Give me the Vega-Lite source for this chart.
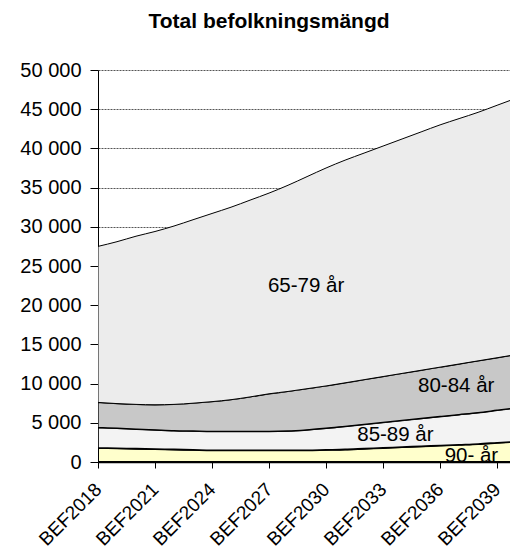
{
  "$schema": "https://vega.github.io/schema/vega-lite/v6.json",
  "width": 412,
  "height": 392,
  "autosize": {"type": "none"},
  "padding": {"left": 98, "top": 70, "right": 0, "bottom": 88},
  "background": "white",
  "config": {
    "font": "Liberation Sans",
    "view": {"stroke": null},
    "axis": {"labelFont": "Liberation Sans", "labelColor": "black", "domainColor": "black", "tickColor": "black"}
  },
  "title": {
    "text": "Total befolkningsmängd",
    "fontSize": 21,
    "fontWeight": "bold",
    "font": "Liberation Sans",
    "color": "black",
    "anchor": "middle",
    "dx": -35,
    "offset": 28
  },
  "encoding": {
    "x": {
      "field": "år",
      "type": "quantitative",
      "scale": {"domain": [2018, 2039.68], "nice": false, "zero": false},
      "axis": {
        "title": null,
        "values": [2018, 2021, 2024, 2027, 2030, 2033, 2036, 2039],
        "labelExpr": "'BEF' + datum.value",
        "labelAngle": -45,
        "labelAlign": "right",
        "labelBaseline": "middle",
        "labelFontSize": 19,
        "labelPadding": 18,
        "tickSize": 6,
        "grid": false,
        "domainWidth": 1.5,
        "labelOverlap": false,
        "labelBound": false,
        "labelFlush": false
      }
    },
    "y": {
      "field": "antal",
      "type": "quantitative",
      "stack": "zero",
      "scale": {"domain": [0, 50000], "nice": false},
      "axis": {
        "title": null,
        "values": [0, 5000, 10000, 15000, 20000, 25000, 30000, 35000, 40000, 45000, 50000],
        "labelExpr": "replace(format(datum.value, ','), ',', ' ')",
        "labelFontSize": 20,
        "labelPadding": 9,
        "labelOverlap": false,
        "labelBound": false,
        "labelFlush": false,
        "tickSize": 8,
        "grid": true,
        "gridColor": "#555555",
        "gridDash": [2, 1],
        "gridWidth": 1,
        "domainWidth": 1
      }
    }
  },
  "layer": [
    {
      "data": {
        "values": [
          {"år": 2018, "g90": 1800, "g85": 2600, "g80": 3200, "g65": 19900},
          {"år": 2019, "g90": 1750, "g85": 2550, "g80": 3150, "g65": 20650},
          {"år": 2020, "g90": 1700, "g85": 2500, "g80": 3150, "g65": 21450},
          {"år": 2021, "g90": 1650, "g85": 2450, "g80": 3200, "g65": 22100},
          {"år": 2022, "g90": 1600, "g85": 2400, "g80": 3350, "g65": 22750},
          {"år": 2023, "g90": 1550, "g85": 2400, "g80": 3550, "g65": 23400},
          {"år": 2024, "g90": 1500, "g85": 2400, "g80": 3800, "g65": 24000},
          {"år": 2025, "g90": 1500, "g85": 2400, "g80": 4050, "g65": 24550},
          {"år": 2026, "g90": 1500, "g85": 2400, "g80": 4400, "g65": 25100},
          {"år": 2027, "g90": 1500, "g85": 2400, "g80": 4800, "g65": 25600},
          {"år": 2028, "g90": 1500, "g85": 2450, "g80": 5050, "g65": 26300},
          {"år": 2029, "g90": 1500, "g85": 2600, "g80": 5250, "g65": 27050},
          {"år": 2030, "g90": 1550, "g85": 2750, "g80": 5400, "g65": 27800},
          {"år": 2031, "g90": 1600, "g85": 2950, "g80": 5550, "g65": 28400},
          {"år": 2032, "g90": 1700, "g85": 3100, "g80": 5700, "g65": 28900},
          {"år": 2033, "g90": 1800, "g85": 3250, "g80": 5850, "g65": 29400},
          {"år": 2034, "g90": 1900, "g85": 3400, "g80": 6000, "g65": 29900},
          {"år": 2035, "g90": 2000, "g85": 3550, "g80": 6150, "g65": 30400},
          {"år": 2036, "g90": 2100, "g85": 3700, "g80": 6300, "g65": 30900},
          {"år": 2037, "g90": 2200, "g85": 3850, "g80": 6450, "g65": 31300},
          {"år": 2038, "g90": 2300, "g85": 4000, "g80": 6600, "g65": 31700},
          {"år": 2039, "g90": 2450, "g85": 4150, "g80": 6700, "g65": 32200},
          {"år": 2040, "g90": 2600, "g85": 4300, "g80": 6800, "g65": 32700}
        ]
      },
      "transform": [{"fold": ["g90", "g85", "g80", "g65"], "as": ["grupp", "antal"]}],
      "mark": {"type": "area", "clip": true, "stroke": "black", "interpolate": "monotone"},
      "encoding": {
        "order": {"field": "grupp", "type": "ordinal", "sort": "descending"},
        "color": {
          "field": "grupp",
          "type": "nominal",
          "legend": null,
          "scale": {"domain": ["g65", "g80", "g85", "g90"], "range": ["#ececec", "#c8c8c8", "#f3f3f3", "#ffffcc"]}
        },
        "fillOpacity": {"value": 1},
        "strokeWidth": {
          "field": "grupp",
          "type": "nominal",
          "legend": null,
          "scale": {"domain": ["g65", "g80", "g85", "g90"], "range": [1, 2, 3, 2.5]}
        }
      }
    },
    {
      "data": {
        "values": [
          {"etikett": "65-79 år", "år": 2028.95, "antal": 22500},
          {"etikett": "80-84 år", "år": 2036.85, "antal": 9700},
          {"etikett": "85-89 år", "år": 2033.65, "antal": 3500},
          {"etikett": "90- år", "år": 2037.65, "antal": 800}
        ]
      },
      "mark": {"type": "text", "fontSize": 20.5, "color": "black", "align": "center", "baseline": "middle"},
      "encoding": {
        "text": {"field": "etikett"}
      }
    }
  ]
}
